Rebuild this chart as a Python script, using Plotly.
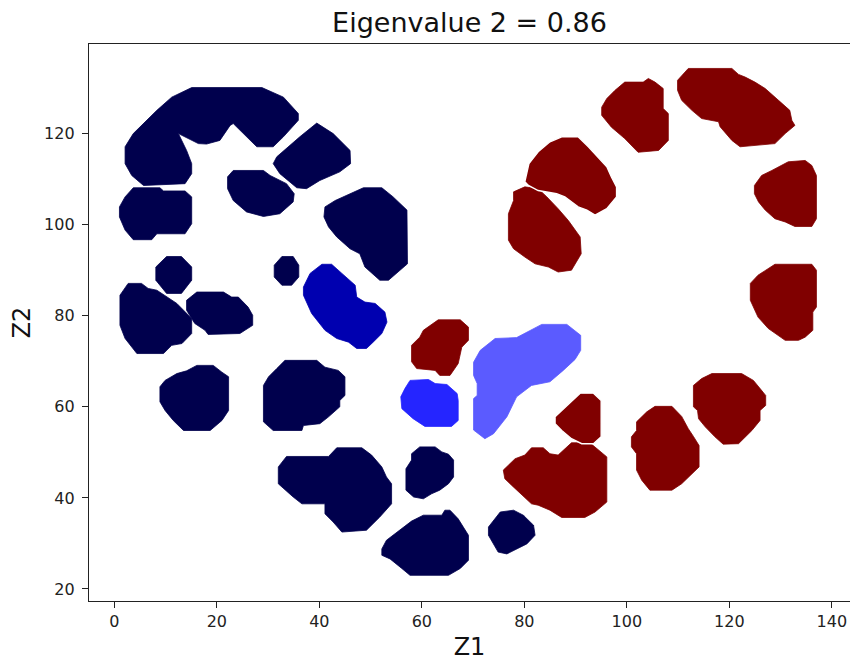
import plotly.graph_objects as go

# ---- data: blob outlines (Z1, Z2) ----
blob_a = [(15.1,130.1),(28.8,130.1),(33.0,128.0),(35.9,124.4),(35.9,122.9),(33.0,119.3),(31.0,117.1),(27.8,117.1),
          (23.2,122.2),(22.6,121.8),(20.6,118.5),(18.0,117.7),(16.4,117.8),(12.5,120.0),(14.1,116.3),(15.1,113.4),
          (15.1,111.2),(13.8,109.0),(5.7,108.6),(3.4,110.8),(2.1,113.4),(2.1,117.1),(3.7,120.0),(8.3,125.1),(11.2,128.0)]
blob_b = [(39.5,122.3),(42.7,120.0),(46.0,116.3),(46.1,113.4),(44.0,111.6),(40.1,109.7),(37.5,107.9),(35.6,108.1),
          (32.3,111.2),(31.0,113.4),(31.7,114.9),(36.2,119.3)]
blob_c = [(23.2,111.9),(29.1,111.9),(30.4,110.8),(33.6,109.0),(35.1,106.8),(34.9,105.0),(32.3,102.4),(29.1,101.8),
          (25.8,102.8),(23.2,105.3),(22.1,107.9),(22.1,110.5)]
blob_d = [(3.7,108.1),(8.9,108.1),(9.6,107.4),(13.8,107.4),(15.1,106.1),(15.1,100.2),(13.8,98.0),(8.3,98.0),
          (7.3,96.7),(3.7,96.7),(2.1,98.8),(1.0,101.7),(1.0,103.9),(2.1,106.1)]
blob_e = [(48.6,108.1),(52.2,108.1),(54.4,106.1),(57.1,103.2),(57.2,91.4),(55.4,89.6),(53.5,87.8),(51.8,87.8),
          (48.9,90.7),(47.9,93.6),(46.0,94.7),(43.4,97.3),(41.8,99.5),(40.9,101.7),(41.1,103.9),(43.1,105.3),
          (44.7,106.1),(46.6,107.2)]
blob_f = [(10.2,93.0),(13.1,93.0),(15.1,90.7),(15.1,87.8),(13.1,84.9),(10.2,84.9),(8.1,87.8),(8.1,90.7)]
blob_g = [(32.7,93.0),(34.9,93.0),(36.0,91.1),(36.0,88.5),(34.6,86.7),(32.7,86.7),(31.2,88.5),(31.2,91.1)]
blob_i = [(2.7,87.1),(5.3,87.1),(6.6,86.0),(8.3,85.6),(12.2,82.7),(15.1,79.4),(15.1,76.1),(13.2,73.9),(11.2,73.5),
          (9.6,71.7),(4.4,71.7),(2.1,75.0),(1.1,77.9),(1.1,84.5)]
blob_j = [(14.1,83.4),(16.1,85.2),(21.3,85.2),(22.9,84.1),(24.2,84.1),(26.1,81.9),(27.0,80.1),(27.0,77.9),
          (24.5,76.1),(18.3,75.9),(17.7,76.8),(15.7,78.3),(14.1,81.2)]
blob_k = [(12.2,67.3),(14.1,67.9),(16.1,69.1),(19.3,69.1),(21.0,67.6),(22.3,66.6),(22.3,59.2),(21.0,57.0),
          (18.7,54.8),(13.5,54.8),(11.5,57.0),(9.9,59.2),(8.9,61.1),(8.9,64.4),(9.9,65.8)]
blob_l = [(33.3,70.2),(39.5,70.2),(41.1,68.7),(43.7,68.0),(45.0,66.6),(45.0,62.5),(44.0,61.4),(44.0,60.0),
          (41.8,57.8),(40.1,56.3),(36.9,55.9),(36.6,54.8),(31.0,54.8),(29.1,56.7),(29.1,64.7),(30.1,66.6),(31.7,68.4)]
blob_m = [(33.6,49.1),(41.8,49.1),(43.4,51.0),(48.3,51.0),(50.2,49.4),(52.2,46.8),(53.1,44.6),(54.1,43.1),
          (54.1,38.7),(51.8,35.8),(49.2,32.9),(44.4,32.5),(42.7,34.7),(41.1,36.5),(41.1,38.7),(36.6,38.7),
          (34.9,40.2),(32.0,43.1),(32.0,46.8)]
blob_n = [(59.6,51.2),(62.6,51.2),(63.9,50.1),(65.2,49.6),(66.2,48.3),(66.2,44.6),(65.2,43.1),(63.5,41.7),
          (61.9,40.9),(60.3,39.8),(58.4,40.2),(56.9,41.7),(56.9,46.4),(58.0,48.3),(58.0,49.7)]
blob_o = [(58.0,34.9),(60.3,36.2),(63.9,36.2),(64.5,37.3),(65.5,37.3),(67.1,35.4),(68.1,33.6),(69.1,31.8),
          (69.1,26.3),(67.5,24.5),(65.2,23.0),(57.7,23.0),(56.1,24.5),(53.8,26.6),(52.2,27.4),(52.2,28.8),
          (53.1,30.7),(54.8,32.1),(56.4,33.6)]
blob_p = [(73.0,33.6),(75.3,36.9),(77.9,37.3),(79.8,36.2),(81.8,34.0),(82.1,31.8),(80.5,29.9),(78.5,28.8),
          (76.6,27.7),(74.9,28.1),(74.0,29.9),(73.0,31.8)]
blob_h = [(40.5,91.3),(42.4,91.3),(44.4,89.3),(47.0,86.7),(47.3,84.1),(48.9,83.0),(50.9,82.7),(52.8,80.8),
          (53.2,78.6),(52.2,76.1),(50.5,74.2),(49.2,72.8),(47.3,72.8),(45.7,74.2),(43.4,75.0),(41.1,76.8),
          (38.5,80.5),(37.9,81.9),(36.9,84.5),(36.9,86.3),(38.2,89.3)]
blob_v = [(57.7,65.8),(61.3,66.0),(62.6,65.1),(64.9,64.9),(66.9,62.9),(67.1,61.4),(67.1,57.0),(65.8,55.7),
          (60.6,55.7),(58.3,57.4),(56.1,59.6),(55.9,62.2),(56.7,64.0)]
blob_u = [(71.4,72.4),(74.3,75.0),(78.5,75.2),(80.1,76.2),(83.4,78.1),(88.3,78.1),(91.0,75.7),(91.0,72.4),
          (89.9,70.4),(87.6,68.0),(85.0,65.5),(81.4,64.7),(78.5,62.2),(76.6,57.8),(74.0,54.1),(72.3,53.0),
          (70.1,54.9),(70.1,61.8),(70.8,62.5),(70.8,65.1),(70.1,66.9),(70.1,69.8)]
blob_w = [(60.3,76.8),(61.6,77.9),(63.2,79.1),(67.5,79.1),(69.1,77.5),(69.1,74.6),(67.8,73.1),(67.1,69.5),
          (65.5,66.9),(63.5,66.9),(62.6,68.0),(59.0,68.4),(58.0,69.9),(58.0,73.5),(59.6,75.3)]
blob_q = [(75.9,46.1),(78.2,48.6),(80.1,49.4),(81.4,51.0),(83.7,51.0),(85.0,49.7),(86.6,49.4),(89.2,52.1),
          (92.8,52.1),(96.1,49.0),(96.1,39.1),(93.8,36.9),(91.8,35.7),(87.3,35.7),(85.0,37.3),(82.7,38.4),
          (81.4,38.7),(79.5,40.6),(77.5,42.8),(76.2,44.2)]
blob_r = [(86.0,57.8),(87.3,59.2),(89.2,61.3),(90.9,63.0),(93.5,63.0),(95.0,61.4),(95.0,53.4),(93.5,51.9),
          (91.2,51.9),(89.2,53.0),(87.3,54.8),(86.0,56.3)]
blob_s = [(101.9,56.7),(103.9,58.9),(105.5,60.1),(108.8,60.1),(110.7,57.9),(112.0,55.2),(113.0,53.5),(114.1,51.5),
          (114.1,46.8),(112.7,45.3),(110.7,43.1),(108.8,41.7),(104.5,41.7),(102.9,43.9),(101.9,46.1),(101.9,49.7),
          (100.9,51.2),(100.9,53.4),(101.9,54.8)]
blob_t = [(113.0,64.7),(114.6,66.2),(116.6,67.3),(122.4,67.3),(124.7,65.8),(126.0,64.0),(127.1,62.5),(127.1,60.3),
          (126.0,59.2),(126.0,57.0),(124.4,54.8),(121.8,51.9),(118.8,51.8),(117.2,53.4),(115.3,55.6),(114.0,57.4),
          (113.8,59.2),(113.0,60.0)]
blob_x1 = [(99.6,131.3),(103.2,131.3),(104.2,132.1),(105.5,131.3),(107.1,129.9),(107.1,125.5),(108.1,124.4),
           (108.1,118.5),(106.2,116.3),(102.2,115.9),(99.6,118.9),(97.0,121.4),(95.1,124.0),(95.1,125.8),
           (96.1,127.7),(97.7,129.5)]
blob_x2 = [(112.0,134.3),(120.5,134.3),(121.8,133.0),(123.1,132.4),(125.0,131.3),(127.0,129.9),(129.6,127.3),
           (131.8,125.1),(132.2,122.9),(132.8,121.8),(130.9,120.0),(128.9,117.8),(122.1,117.1),(120.5,118.5),
           (118.2,121.5),(117.9,122.6),(114.6,123.3),(112.7,125.1),(110.7,127.3),(109.9,129.5),(109.9,131.7)]
blob_x3 = [(87.3,119.3),(90.5,119.3),(92.5,117.1),(94.1,115.2),(96.1,112.7),(97.0,110.5),(98.0,108.3),(98.0,106.1),
           (96.1,103.5),(93.8,102.1),(92.2,103.2),(90.5,103.9),(87.9,106.1),(86.3,106.8),(84.0,107.2),(82.7,107.5),
           (80.8,108.6),(80.1,109.4),(80.9,113.4),(82.7,116.0),(85.0,118.2)]
blob_x4 = [(77.9,107.2),(80.1,108.3),(82.7,107.9),(84.4,106.1),(86.6,103.5),(88.6,100.9),(90.9,97.3),(91.1,93.6),
           (89.2,90.0),(86.6,89.6),(84.7,90.7),(82.1,91.4),(80.1,92.9),(77.9,94.7),(76.9,96.6),(76.9,102.4),(77.9,105.3)]
blob_x5 = [(128.3,111.9),(131.5,113.8),(134.8,114.1),(136.1,113.0),(137.0,110.8),(137.0,101.3),(136.1,99.6),
           (132.8,99.6),(130.9,100.6),(128.9,101.3),(127.0,103.2),(125.7,105.0),(124.9,106.8),(124.9,108.6),(126.3,110.8)]
blob_x6 = [(128.9,91.3),(136.1,91.3),(137.0,90.0),(137.0,81.9),(136.3,80.8),(136.3,76.8),(134.8,75.3),(133.5,74.6),
           (130.9,74.6),(127.6,77.2),(125.6,79.7),(124.1,83.4),(124.1,87.1),(125.6,88.9)]

# colour groups (seismic colormap values)
navy_blobs = [blob_a, blob_b, blob_c, blob_d, blob_e, blob_f, blob_g, blob_i, blob_j, blob_k, blob_l,
              blob_m, blob_n, blob_o, blob_p]
mid_blue_blobs = [blob_h]
bright_blue_blobs = [blob_v]
light_blue_blobs = [blob_u]
red_blobs = [blob_x4, blob_x3, blob_x1, blob_x2, blob_x5, blob_x6, blob_w, blob_q, blob_r, blob_s, blob_t]
gap_blobs = [blob_x3, blob_r]   # drawn with a thin white rim where they touch a neighbour

x_ticks = [0, 20, 40, 60, 80, 100, 120, 140]
y_ticks = [20, 40, 60, 80, 100, 120]
title_text = "Eigenvalue 2 = 0.86"
x_label = "Z1"
y_label = "Z2"

groups = [(navy_blobs, "#00004d"), (mid_blue_blobs, "#0000b0"), (bright_blue_blobs, "#2525ff"),
          (light_blue_blobs, "#5b5bff"), (red_blobs, "#800000")]

fig = go.Figure()
for blobs, col in groups:
    for b in blobs:
        xs = [p[0] for p in b] + [b[0][0]]
        ys = [p[1] for p in b] + [b[0][1]]
        rim = any(b is g for g in gap_blobs)
        fig.add_trace(go.Scatter(
            x=xs, y=ys, mode="lines", fill="toself", fillcolor=col,
            line=dict(color="white" if rim else col, width=1.4 if rim else 0.8),
            hoverinfo="skip", showlegend=False))

font_family = "DejaVu Sans"
fig.update_layout(
    width=850, height=661,
    margin=dict(l=89, r=0, t=44, b=60),
    paper_bgcolor="white", plot_bgcolor="white",
    title=dict(text=title_text, x=0.5, xref="paper", xanchor="center",
               y=1 - 23 / 661, yref="container", yanchor="middle",
               font=dict(family=font_family, size=27, color="#111")),
    font=dict(family=font_family, color="#222"),
)
fig.update_xaxes(
    range=[-4.94, 143.55], tickvals=x_ticks, ticktext=[str(v) for v in x_ticks],
    showgrid=False, zeroline=False, showline=True, linecolor="#222", linewidth=1.3, mirror=True,
    ticks="outside", ticklen=6, tickwidth=1.3, tickcolor="#222",
    tickfont=dict(family=font_family, size=16, color="#222"),
    title=dict(text=x_label, font=dict(family=font_family, size=24, color="#111"), standoff=14),
)
fig.update_yaxes(
    range=[17.36, 139.67], tickvals=y_ticks, ticktext=[str(v) for v in y_ticks],
    showgrid=False, zeroline=False, showline=True, linecolor="#222", linewidth=1.3, mirror=False,
    ticks="outside", ticklen=6, tickwidth=1.3, tickcolor="#222",
    tickfont=dict(family=font_family, size=16, color="#222"), ticklabelstandoff=4,
    title=dict(text=y_label, font=dict(family=font_family, size=24, color="#111"), standoff=6),
)
fig.write_html("out.html")
